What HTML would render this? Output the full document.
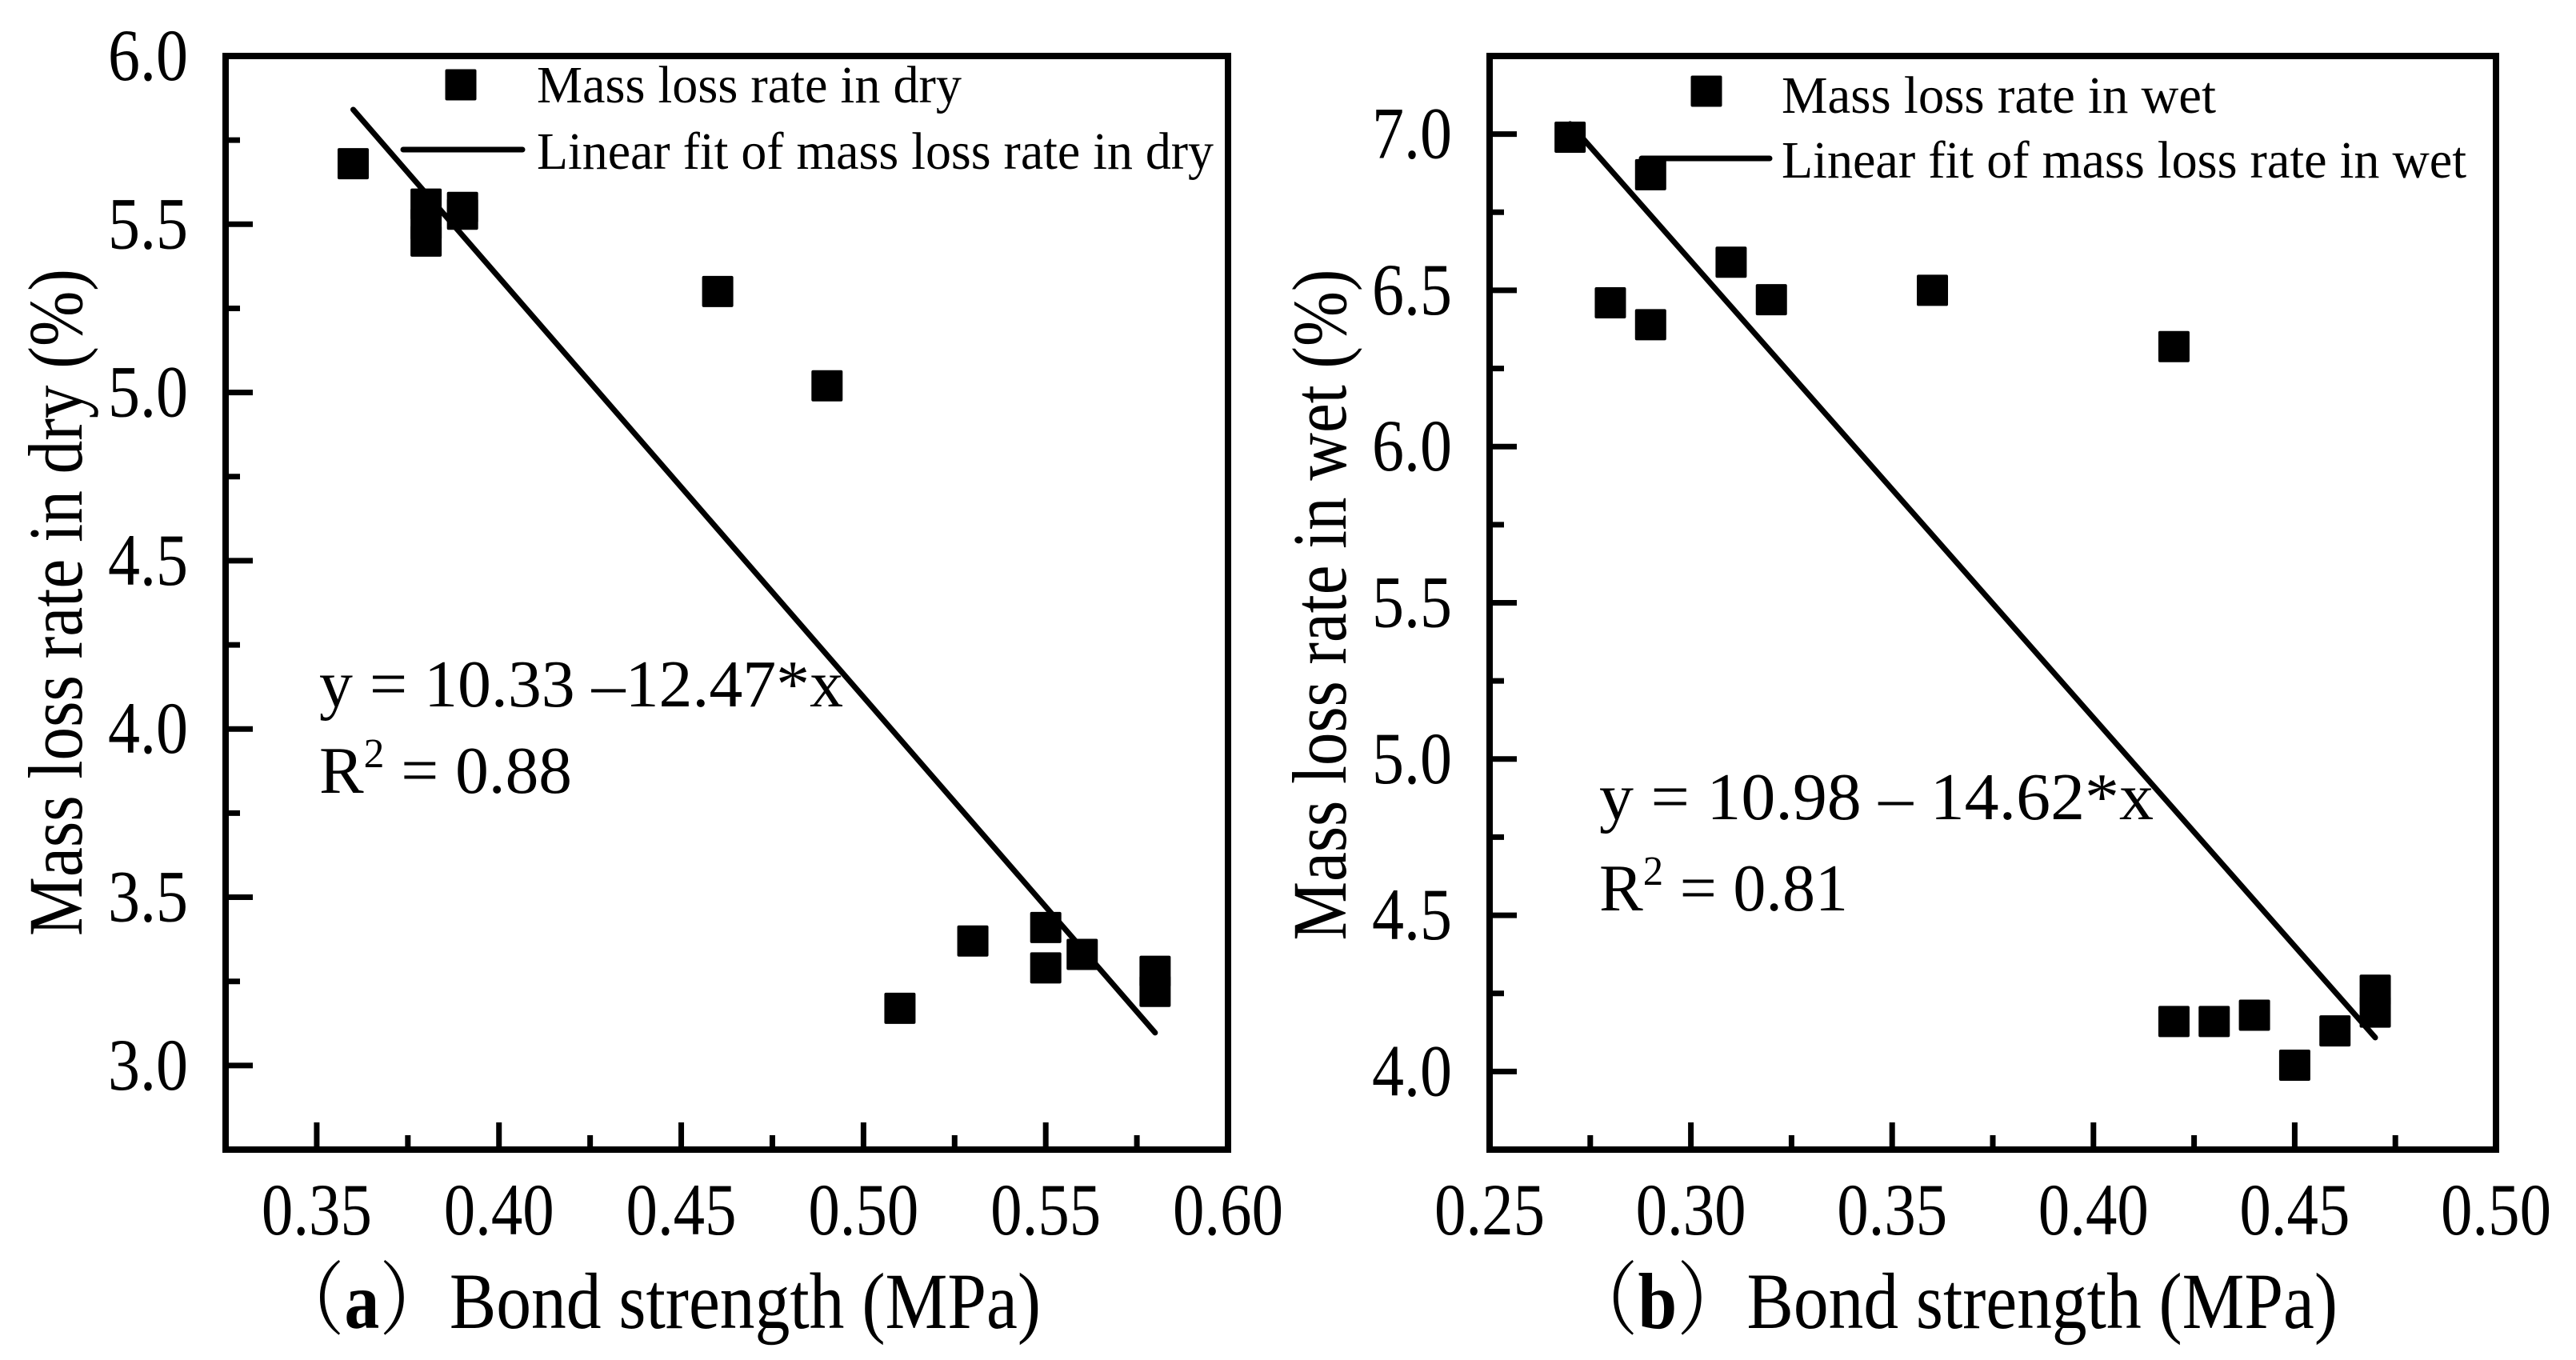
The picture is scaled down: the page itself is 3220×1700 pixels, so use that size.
<!DOCTYPE html>
<html><head><meta charset="utf-8"><style>
html,body{margin:0;padding:0;background:#fff;}
svg{display:block;}
text{font-family:"Liberation Serif","Times New Roman","Noto Serif CJK SC",serif;fill:#000;}
</style></head><body>
<svg id="chart" width="3220" height="1700" viewBox="0 0 3220 1700" xmlns="http://www.w3.org/2000/svg"></svg>
<script>
// Panel (a) data
const dryX = [0.36,0.38,0.38,0.38,0.39,0.39,0.46,0.49,0.51,0.53,0.55,0.55,0.56,0.58,0.58];
const dryY = [5.68,5.56,5.50,5.45,5.55,5.53,5.30,5.02,3.17,3.37,3.41,3.29,3.33,3.28,3.22];
const dryFit = [10.33,-12.47];
const dryFitRange = [0.36,0.58];
const dryXTicks = ["0.35","0.40","0.45","0.50","0.55","0.60"];
const dryYTicks = ["3.0","3.5","4.0","4.5","5.0","5.5","6.0"];
// Panel (b) data
const wetX = [0.27,0.28,0.29,0.29,0.31,0.32,0.36,0.42,0.42,0.43,0.44,0.45,0.46,0.47,0.47];
const wetY = [6.99,6.46,6.87,6.39,6.59,6.47,6.50,6.32,4.16,4.16,4.18,4.02,4.13,4.26,4.19];
const wetFit = [10.98,-14.62];
const wetFitRange = [0.27,0.47];
const wetXTicks = ["0.25","0.30","0.35","0.40","0.45","0.50"];
const wetYTicks = ["4.0","4.5","5.0","5.5","6.0","6.5","7.0"];

const NS="http://www.w3.org/2000/svg";
const svg=document.getElementById('chart');
function mk(tag,attrs,parent,txt){const e=document.createElementNS(NS,tag);for(const k in attrs)e.setAttribute(k,attrs[k]);if(txt!==undefined)e.textContent=txt;(parent||svg).appendChild(e);return e;}

function panel(cfg){
  const g=mk('g',{});
  
  
  const sx=v=>cfg.L+(v-cfg.xmin)/(cfg.xmax-cfg.xmin)*(cfg.R-cfg.L);
  const sy=v=>cfg.B-(v-cfg.ymin)/(cfg.ymax-cfg.ymin)*(cfg.B-cfg.T);
  const step=0.05, ystep=0.5;
  cfg.xTicks.forEach((t,i)=>{
    const v=parseFloat(t), x=sx(v);
    const tk=mk('line',{x1:x,x2:x,y1:cfg.B,y2:cfg.B-34,stroke:'#000','stroke-width':7},g);
    
    
    const lb=mk('text',{x:x-69,y:1543,'font-size':92,textLength:138,lengthAdjust:'spacingAndGlyphs'},g,t);
    
    
    const mv=v+step/2;
    if(mv<cfg.xmax-1e-6){const mx=sx(mv);
      const m=mk('line',{x1:mx,x2:mx,y1:cfg.B,y2:cfg.B-18,stroke:'#000','stroke-width':7},g);
      
      }
    const pv=v-step/2;
    if(i===0 && pv>cfg.xmin+1e-6){const px=sx(pv);
      const m=mk('line',{x1:px,x2:px,y1:cfg.B,y2:cfg.B-18,stroke:'#000','stroke-width':7},g);
      
      }
  });
  cfg.yTicks.forEach(t=>{
    const v=parseFloat(t), y=sy(v);
    const tk=mk('line',{x1:cfg.L,x2:cfg.L+34,y1:y,y2:y,stroke:'#000','stroke-width':7},g);
    
    
    const lb=mk('text',{x:cfg.L-47-100,y:y+30,'font-size':92,textLength:100,lengthAdjust:'spacingAndGlyphs'},g,t);
    
    
    const mv=v+ystep/2;
    if(mv<cfg.ymax-1e-6){const my=sy(mv);
      const m=mk('line',{x1:cfg.L,x2:cfg.L+18,y1:my,y2:my,stroke:'#000','stroke-width':7},g);
      
      }
  });
  const fr=mk('rect',{x:cfg.L,y:cfg.T,width:cfg.R-cfg.L,height:cfg.B-cfg.T,fill:'none',stroke:'#000','stroke-width':8},g);
  
  
  const x0=cfg.fitRange[0], x1=cfg.fitRange[1];
  const fl=mk('line',{x1:sx(x0),y1:sy(cfg.fit[0]+cfg.fit[1]*x0),x2:sx(x1),y2:sy(cfg.fit[0]+cfg.fit[1]*x1),stroke:'#000','stroke-width':7,'stroke-linecap':'round'},g);
  
  
  const S=39;
  cfg.xs.forEach((xv,i)=>{
    const r=mk('rect',{x:sx(xv)-S/2,y:sy(cfg.ys[i])-S/2,width:S,height:S,fill:'#000',rx:2},g);
    
    
  });
  const lm=mk('rect',{x:cfg.leg.mx-S/2,y:cfg.leg.my-S/2,width:S,height:S,fill:'#000',rx:2},g);
  
  
  const lt1=mk('text',{x:cfg.leg.tx,y:cfg.leg.b1,'font-size':66,textLength:cfg.leg.w1,lengthAdjust:'spacingAndGlyphs'},g,cfg.leg.t1);
  
  
  const ll=mk('line',{x1:cfg.leg.lx1,x2:cfg.leg.lx2,y1:cfg.leg.ly,y2:cfg.leg.ly,stroke:'#000','stroke-width':7,'stroke-linecap':'round'},g);
  
  
  const lt2=mk('text',{x:cfg.leg.tx,y:cfg.leg.b2,'font-size':66,textLength:cfg.leg.w2,lengthAdjust:'spacingAndGlyphs'},g,cfg.leg.t2);
  
  
  const eq=mk('text',{x:cfg.eq.x,y:cfg.eq.b1,'font-size':84,textLength:cfg.eq.w1,lengthAdjust:'spacingAndGlyphs'},g,cfg.eq.t1);
  
  
  const r2=mk('text',{x:cfg.eq.x,y:cfg.eq.b2,'font-size':84,textLength:cfg.eq.w2,lengthAdjust:'spacingAndGlyphs'},g);
  
  
  mk('tspan',{},r2,'R');
  mk('tspan',{dy:-32,'font-size':52},r2,'2');
  mk('tspan',{dy:32},r2,' = '+cfg.eq.r2);
  const yt=mk('text',{x:0,y:0,'font-size':96,'text-anchor':'middle',textLength:cfg.yt.w,lengthAdjust:'spacingAndGlyphs',transform:`translate(${cfg.yt.x},${cfg.yt.y}) rotate(-90)`},g,cfg.yt.t);
  
  
  const xt=mk('text',{x:cfg.xt.x,y:1660,'font-size':100,textLength:cfg.xt.w,lengthAdjust:'spacingAndGlyphs'},g);
  
  
  mk('tspan',{},xt,'（');
  mk('tspan',{'font-weight':'bold'},xt,cfg.xt.p);
  mk('tspan',{},xt,'）Bond strength (MPa)');
}

panel({name:'panel-a-dry',L:282,R:1535,T:70,B:1437,xmin:0.325,xmax:0.6,ymin:2.75,ymax:6.0,
  xs:dryX,ys:dryY,fit:dryFit,fitRange:dryFitRange,xTicks:dryXTicks,yTicks:dryYTicks,
  leg:{mx:576,my:106,tx:671,b1:128,w1:531,t1:'Mass loss rate in dry',lx1:504,lx2:653,ly:187,b2:211,w2:846,t2:'Linear fit of mass loss rate in dry'},
  eq:{x:399,b1:883,w1:655,t1:'y = 10.33 –12.47*x',b2:991,w2:316,r2:'0.88'},
  yt:{x:102,y:753,w:834,t:'Mass loss rate in dry (%)'},
  xt:{x:343,w:958,p:'a'}});

panel({name:'panel-b-wet',L:1862,R:3120,T:70,B:1437,xmin:0.25,xmax:0.5,ymin:3.75,ymax:7.25,
  xs:wetX,ys:wetY,fit:wetFit,fitRange:wetFitRange,xTicks:wetXTicks,yTicks:wetYTicks,
  leg:{mx:2133,my:114,tx:2227,b1:141,w1:543,t1:'Mass loss rate in wet',lx1:2052,lx2:2212,ly:198,b2:222,w2:856,t2:'Linear fit of mass loss rate in wet'},
  eq:{x:1999,b1:1024,w1:693,t1:'y = 10.98  – 14.62*x',b2:1138,w2:311,r2:'0.81'},
  yt:{x:1682,y:756,w:839,t:'Mass loss rate in wet (%)'},
  xt:{x:1960,w:962,p:'b'}});
</script>
</body></html>
